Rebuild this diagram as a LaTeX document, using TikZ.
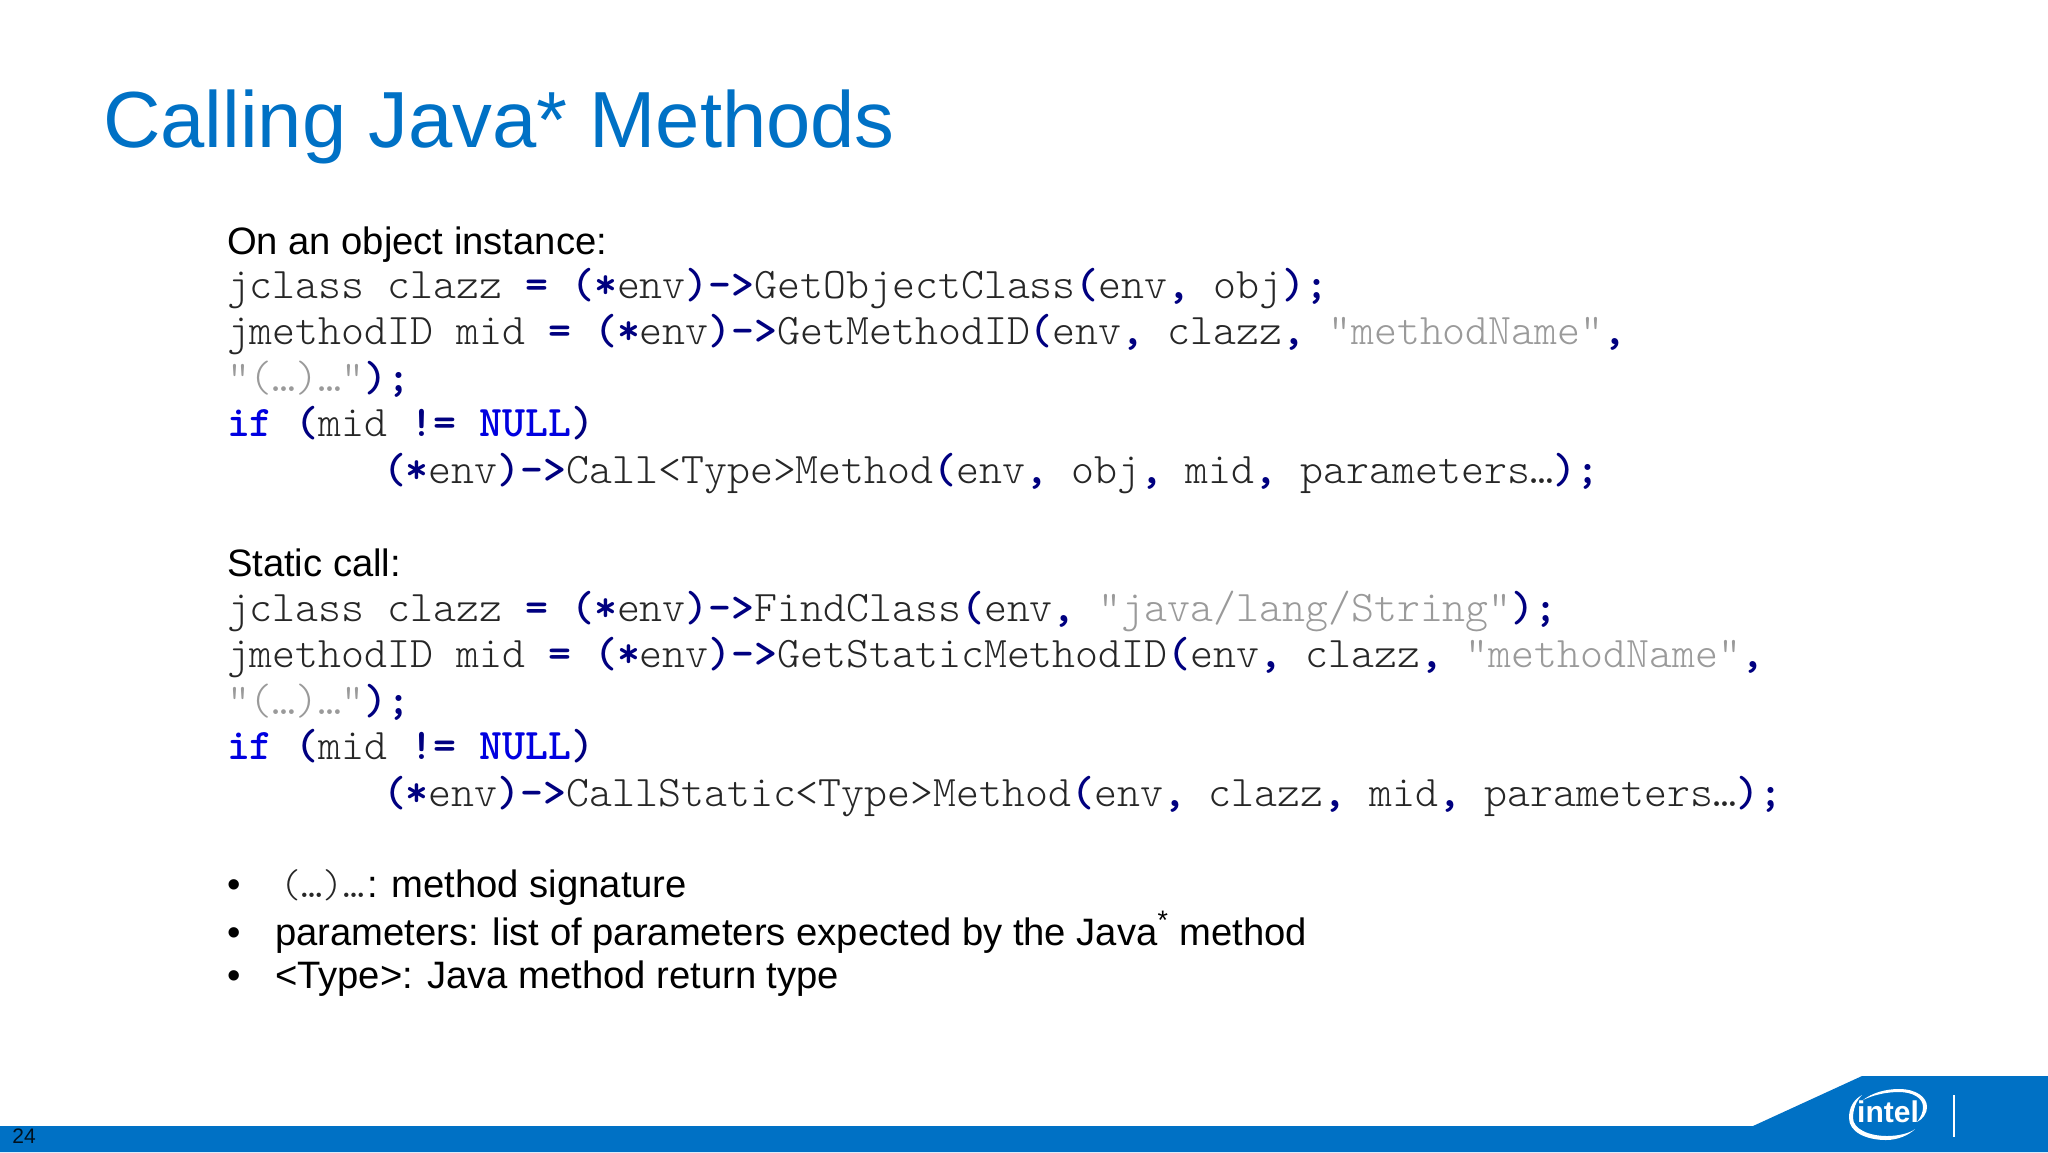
\documentclass[tikz,border=0pt]{standalone}
\usepackage{fontspec}
\setmainfont{Liberation Sans}
\setmonofont{Latin Modern Mono Light}
\definecolor{intelblue}{HTML}{0071C5}
\definecolor{codenavy}{HTML}{000080}
\definecolor{codekw}{HTML}{0000E0}
\definecolor{codestr}{HTML}{9A9A9A}
\definecolor{codetxt}{HTML}{262626}
\newcommand\nv[1]{\textcolor{codenavy}{\bfseries #1}}
\newcommand\kw[1]{\textcolor{codekw}{\bfseries #1}}
\newcommand\stg[1]{\textcolor{codestr}{#1}}
\tikzset{
  codeline/.style={anchor=base west,inner sep=0pt,outer sep=0pt,text=codetxt,font=\ttfamily\fontsize{21.85}{26}\selectfont},
  bodyline/.style={anchor=base west,inner sep=0pt,outer sep=0pt,text=black,font=\fontsize{19.1}{23}\selectfont},
  smallmono/.style={anchor=base west,inner sep=0pt,outer sep=0pt,text=codetxt,font=\ttfamily\fontsize{20}{24}\selectfont},
  titleline/.style={anchor=base west,inner sep=0pt,outer sep=0pt,text=intelblue,font=\fontsize{39.8}{48}\selectfont},
}
\begin{document}
\begin{tikzpicture}[x=0.5pt,y=-0.5pt]
\useasboundingbox (0,0) rectangle (2048,1152);
\fill[white] (0,0) rectangle (2048,1152);
% band
\fill[intelblue] (0,1126) -- (1753,1126) -- (1862,1076) -- (2048,1076) -- (2048,1152) -- (0,1152) -- cycle;
\node[anchor=base west,inner sep=0pt,text=black!85!intelblue,font=\fontsize{10.5}{12}\selectfont] (pageno) at (12,1143) {24};
% logo
\fill[white] (1886,1140) .. controls (1866,1140) and (1849,1132) .. (1849,1118)
  .. controls (1849,1108) and (1853,1100) .. (1862,1095)
  .. controls (1856,1101) and (1853,1109) .. (1853,1118)
  .. controls (1853,1129) and (1869,1136) .. (1887,1136)
  .. controls (1899,1136) and (1910,1133) .. (1915,1129)
  .. controls (1909,1135) and (1898,1140) .. (1886,1140) -- cycle;
\fill[white] (1863,1100) .. controls (1872,1093) and (1885,1089) .. (1899,1089)
  .. controls (1916,1089) and (1927,1097) .. (1927,1107)
  .. controls (1927,1113) and (1923,1119) .. (1917,1122)
  .. controls (1921,1117) and (1923,1112) .. (1923,1107)
  .. controls (1923,1098) and (1913,1092) .. (1899,1092)
  .. controls (1886,1092) and (1873,1095) .. (1863,1100) -- cycle;
\node[inner sep=0pt,text=white,font=\bfseries\fontsize{15}{16}\selectfont] (logotext) at (1888,1112) {intel};
\draw[white,line width=0.8pt] (1954,1095) -- (1954,1137);
% title
\node[titleline] (title) at (103,147) {Calling Java* Methods};
% block 1
\node[bodyline] (h1) at (227,254) {On an object instance:};
\node[codeline] (a1) at (227,298) {jclass clazz \nv{=} \nv{(*}env\nv{)->}GetObjectClass\nv{(}env\nv{,} obj\nv{);}};
\node[codeline] (a2) at (227,344) {jmethodID mid \nv{=} \nv{(*}env\nv{)->}GetMethodID\nv{(}env\nv{,} clazz\nv{,} \stg{"methodName"}\nv{,}};
\node[codeline] (a3) at (227,391) {\stg{"(…)…"}\nv{);}};
\node[codeline] (a4) at (227,436) {\kw{if} \nv{(}mid \nv{!=} \kw{NULL}\nv{)}};
\node[codeline] (a5) at (383,483) {\nv{(*}env\nv{)->}Call<Type>Method\nv{(}env\nv{,} obj\nv{,} mid\nv{,} parameters…\nv{);}};
% block 2
\node[bodyline] (h2) at (227,576) {Static call:};
\node[codeline] (b1) at (227,621) {jclass clazz \nv{=} \nv{(*}env\nv{)->}FindClass\nv{(}env\nv{,} \stg{"java/lang/String"}\nv{);}};
\node[codeline] (b2) at (227,667) {jmethodID mid \nv{=} \nv{(*}env\nv{)->}GetStaticMethodID\nv{(}env\nv{,} clazz\nv{,} \stg{"methodName"}\nv{,}};
\node[codeline] (b3) at (227,714) {\stg{"(…)…"}\nv{);}};
\node[codeline] (b4) at (227,759) {\kw{if} \nv{(}mid \nv{!=} \kw{NULL}\nv{)}};
\node[codeline] (b5) at (383,806) {\nv{(*}env\nv{)->}CallStatic<Type>Method\nv{(}env\nv{,} clazz\nv{,} mid\nv{,} parameters…\nv{);}};
% bullets
\node[bodyline] (d1) at (227,897) {•};
\node[smallmono] (c1m) at (280,897) {(…)…};
\node[bodyline] (c1) at (367,897) {: method signature};
\node[bodyline] (d2) at (227,945) {•};
\node[bodyline] (c2) at (275,945) {parameters: list of parameters expected by the Java\textsuperscript{*} method};
\node[bodyline] (d3) at (227,988) {•};
\node[bodyline] (c3) at (275,988) {<Type>: Java method return type};
\end{tikzpicture}
\end{document}
